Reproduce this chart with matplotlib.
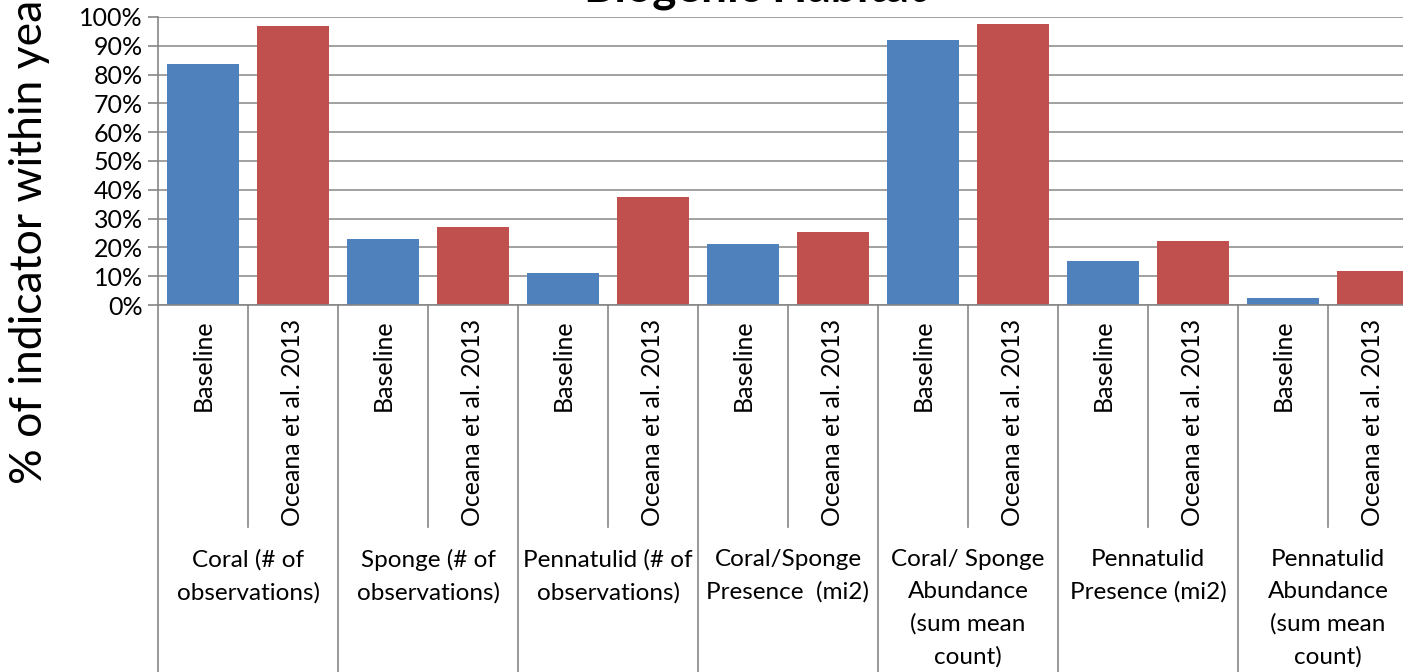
import matplotlib
matplotlib.use('Agg')
import matplotlib.pyplot as plt
import matplotlib.transforms as mtransforms
from matplotlib.ticker import PercentFormatter

plt.rcParams['font.family'] = ['Lato', 'DejaVu Sans']

# Data
groups = ['Coral (# of\nobservations)', 'Sponge (# of\nobservations)',
          'Pennatulid (# of\nobservations)', 'Coral/Sponge\nPresence  (mi2)',
          'Coral/ Sponge\nAbundance\n(sum mean\ncount)', 'Pennatulid\nPresence (mi2)',
          'Pennatulid\nAbundance\n(sum mean\ncount)']
sources = ['Baseline', 'Oceana et al. 2013']
baseline = [83.8, 22.9, 11.1, 21.1, 91.9, 15.3, 2.4]
oceana = [96.9, 27.1, 37.5, 25.3, 97.5, 22.2, 11.8]

blue = '#4F81BD'
red = '#C0504D'
grid_color = '#868686'

W, H = 1403, 672
fig = plt.figure(figsize=(W / 100, H / 100), dpi=100)

# plot area in pixels (axis runs past the right edge, as in the cropped original)
left, right, top, zero = 158, 1418, 17, 305
ax = fig.add_axes([left / W, (H - zero) / H, (right - left) / W, (zero - top) / H])

values = []
colors = []
for b, o in zip(baseline, oceana):
    values += [b, o]
    colors += [blue, red]
x = list(range(len(values)))
ax.bar(x, values, width=0.8, color=colors, zorder=3)

ax.set_xlim(-0.5, len(values) - 0.5)
ax.set_ylim(0, 100)
ax.set_yticks(range(0, 101, 10))
ax.yaxis.set_major_formatter(PercentFormatter(decimals=0))
ax.tick_params(axis='y', labelsize=18, length=7, width=1.2, color=grid_color, pad=4)
ax.set_xticks([])
ax.grid(axis='y', color=grid_color, linewidth=1.1, zorder=0)
for s in ['top', 'right']:
    ax.spines[s].set_visible(False)
for s in ['left', 'bottom']:
    ax.spines[s].set_color(grid_color)
    ax.spines[s].set_linewidth(1.2)
ax.spines['bottom'].set_zorder(4)

# multi-level category axis
trans = mtransforms.blended_transform_factory(ax.transData, ax.transAxes)
px = 1.0 / (zero - top)
inner_bottom = -(527 - zero) * px
for i in range(len(values) + 1):
    xpos = i - 0.5
    if i % 2 == 0:
        ax.plot([xpos, xpos], [0, -1.4], transform=trans, color=grid_color,
                linewidth=1.2, clip_on=False)
    else:
        ax.plot([xpos, xpos], [0, inner_bottom], transform=trans, color=grid_color,
                linewidth=1.2, clip_on=False)

for i in range(len(values)):
    ax.text(i, -(319 - zero) * px, sources[i % 2], transform=trans, rotation=90,
            ha='center', va='top', fontsize=18)

for g, label in enumerate(groups):
    ax.text(2 * g + 0.5, -(549 - zero) * px, label, transform=trans,
            ha='center', va='top', fontsize=17.5, linespacing=1.64)

# title and y label (both cropped in the original)
fig.text(755 / W, 1 - 1.5 / H, 'Biogenic Habitat', ha='center', va='baseline',
         fontsize=33, fontweight='bold')
fig.text(30 / W, (H - 484) / H, '% of indicator within year', rotation=90,
         ha='center', va='bottom', fontsize=32)

fig.savefig('out.png', dpi=100)
